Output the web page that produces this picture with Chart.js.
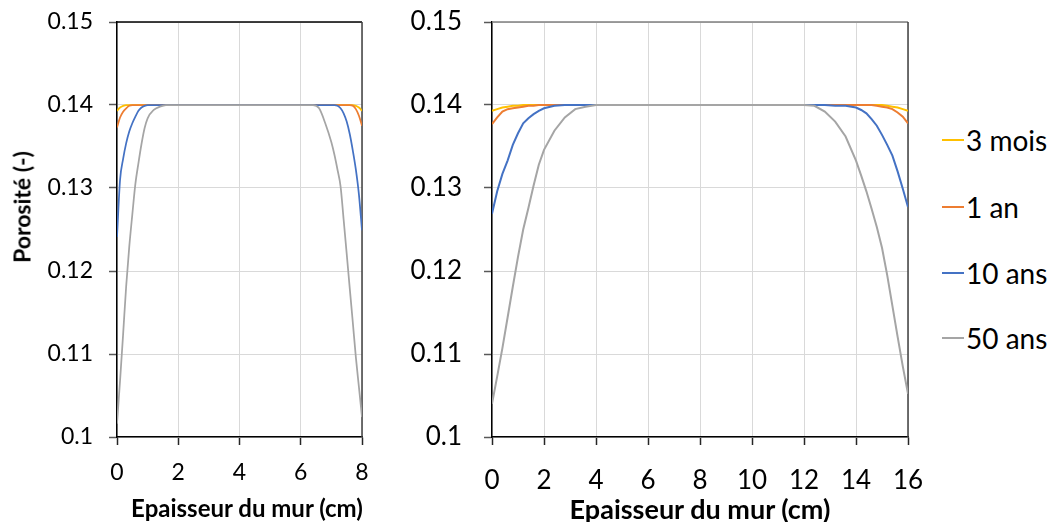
<!DOCTYPE html>
<html>
<head>
<meta charset="utf-8">
<script src="https://cdn.jsdelivr.net/npm/chart.js@4.4.1/dist/chart.umd.min.js"></script>
<style>
  html, body { margin: 0; padding: 0; background: #fff; }
  #wrap { position: relative; width: 1050px; height: 522px; overflow: hidden; font-family: Lato, "Open Sans", sans-serif; color: #000; }
  canvas { position: absolute; top: 0; }
  .axis-title { position: absolute; font-weight: bold; white-space: nowrap; line-height: 1; transform: translate(-50%, -50%); }
  #ytitle { left: 22px; top: 207px; font-size: 23px; transform: translate(-50%, -50%) rotate(-90deg); }
  #xtitle8 { left: 247px; top: 508px; font-size: 24px; }
  #xtitle16 { left: 700px; top: 508px; font-size: 27px; }
  .leg { position: absolute; left: 942px; display: flex; align-items: center; font-size: 28px; line-height: 1; white-space: nowrap; transform: translateY(-50%); }
  .leg i { display: block; width: 22px; height: 2px; margin-right: 2px; }
</style>
</head>
<body>
<div id="wrap">
  <canvas id="c8" width="380" height="522" style="left:0px"></canvas>
  <canvas id="c16" width="560" height="522" style="left:380px"></canvas>
  <div id="ytitle" class="axis-title">Porosité (-)</div>
  <div id="xtitle8" class="axis-title">Epaisseur du mur (cm)</div>
  <div id="xtitle16" class="axis-title">Epaisseur du mur (cm)</div>
  <div id="legend"></div>
</div>
<script>
// Series labels and colours
const seriesNames  = ['3 mois', '1 an', '10 ans', '50 ans'];
const seriesColors = ['#FFC000', '#ED7D31', '#4472C4', '#A5A5A5'];

// Axis ticks
const yTickValues = [0.1, 0.11, 0.12, 0.13, 0.14, 0.15];
const xTicks8  = [0, 2, 4, 6, 8];
const xTicks16 = [0, 2, 4, 6, 8, 10, 12, 14, 16];

// Wall 8 cm: positions across the thickness (cm)
const depth8 = [0, 0.1, 0.2, 0.3, 0.4, 0.5, 0.6, 0.7, 0.8, 0.9, 1.0, 1.2, 1.4, 1.6,
                2, 3, 4, 5, 6, 6.2, 6.4, 6.6, 6.8,
                7.0, 7.1, 7.2, 7.3, 7.4, 7.5, 7.6, 7.7, 7.8, 7.9, 8.0];
const mois3_8 = [0.1393, 0.1397, 0.1399, 0.14, 0.14, 0.14, 0.14, 0.14, 0.14, 0.14, 0.14, 0.14, 0.14, 0.14,
                 0.14, 0.14, 0.14, 0.14, 0.14, 0.14, 0.14, 0.14, 0.14,
                 0.14, 0.14, 0.14, 0.14, 0.14, 0.14, 0.14, 0.14, 0.1399, 0.1397, 0.1393];
const an1_8   = [0.1373, 0.1385, 0.1392, 0.1396, 0.1399, 0.14, 0.14, 0.14, 0.14, 0.14, 0.14, 0.14, 0.14, 0.14,
                 0.14, 0.14, 0.14, 0.14, 0.14, 0.14, 0.14, 0.14, 0.14,
                 0.14, 0.14, 0.14, 0.14, 0.14, 0.14, 0.14, 0.1399, 0.1395, 0.1387, 0.1375];
const ans10_8 = [0.1241, 0.1310, 0.1335, 0.1354, 0.1368, 0.1378, 0.1386, 0.1393, 0.1397, 0.1399, 0.14, 0.14, 0.14, 0.14,
                 0.14, 0.14, 0.14, 0.14, 0.14, 0.14, 0.14, 0.14, 0.14,
                 0.14, 0.14, 0.1399, 0.1396, 0.1390, 0.1380, 0.1365, 0.1345, 0.1322, 0.1292, 0.1249];
const ans50_8 = [0.1016, 0.1068, 0.1124, 0.1182, 0.1229, 0.1268, 0.1305, 0.1330, 0.1353, 0.1372, 0.1384, 0.1394, 0.1398, 0.14,
                 0.14, 0.14, 0.14, 0.14, 0.14, 0.14, 0.14, 0.1396, 0.1378,
                 0.1355, 0.1340, 0.1322, 0.1302, 0.1262, 0.1221, 0.1179, 0.1138, 0.1096, 0.1060, 0.1024];

// Wall 16 cm: positions across the thickness (cm)
const depth16 = [0, 0.2, 0.4, 0.6, 0.8, 1.0, 1.2, 1.4, 1.6, 1.8, 2.0,
                 2.4, 2.8, 3.2, 3.6, 4.0, 6, 8, 10, 12,
                 12.4, 12.8, 13.2, 13.6,
                 14.0, 14.2, 14.4, 14.6, 14.8, 15.0, 15.2, 15.4, 15.6, 15.8, 16.0];
const mois3_16 = [0.1393, 0.1395, 0.1397, 0.1398, 0.1399, 0.1399, 0.14, 0.14, 0.14, 0.14, 0.14,
                  0.14, 0.14, 0.14, 0.14, 0.14, 0.14, 0.14, 0.14, 0.14,
                  0.14, 0.14, 0.14, 0.14,
                  0.14, 0.14, 0.14, 0.14, 0.14, 0.14, 0.1399, 0.1398, 0.1397, 0.1395, 0.1393];
const an1_16   = [0.1377, 0.1385, 0.1392, 0.1395, 0.1396, 0.1397, 0.1398, 0.1399, 0.1399, 0.14, 0.14,
                  0.14, 0.14, 0.14, 0.14, 0.14, 0.14, 0.14, 0.14, 0.14,
                  0.14, 0.14, 0.14, 0.14,
                  0.14, 0.14, 0.14, 0.14, 0.1399, 0.1398, 0.1397, 0.1395, 0.1391, 0.1386, 0.1378];
const ans10_16 = [0.1269, 0.1296, 0.1317, 0.1333, 0.1352, 0.1366, 0.1378, 0.1384, 0.1389, 0.1393, 0.1396,
                  0.1399, 0.14, 0.14, 0.14, 0.14, 0.14, 0.14, 0.14, 0.14,
                  0.14, 0.14, 0.1399, 0.1399,
                  0.1397, 0.1394, 0.1390, 0.1383, 0.1375, 0.1364, 0.1352, 0.1339, 0.1320, 0.1299, 0.1277];
const ans50_16 = [0.1040, 0.1073, 0.1107, 0.1144, 0.1181, 0.1217, 0.1250, 0.1276, 0.1303, 0.1328, 0.1346,
                  0.1369, 0.1385, 0.1395, 0.1398, 0.14, 0.14, 0.14, 0.14, 0.14,
                  0.1399, 0.1392, 0.1380, 0.1362,
                  0.1333, 0.1315, 0.1296, 0.1275, 0.1253, 0.1228, 0.1195, 0.1158, 0.1121, 0.1085, 0.1052];

Chart.defaults.font.family = 'Lato, "Open Sans", sans-serif';
Chart.defaults.color = '#000';

// Closes the plot box on the top and right sides
const plotFrame = {
  id: 'plotFrame',
  beforeDatasetsDraw(chart, args, opts) {
    const { ctx, chartArea: a } = chart;
    ctx.save();
    ctx.lineWidth = opts.width;
    ctx.strokeStyle = opts.topColor;
    ctx.beginPath(); ctx.moveTo(a.left, a.top); ctx.lineTo(a.right, a.top); ctx.stroke();
    ctx.strokeStyle = opts.rightColor;
    ctx.beginPath(); ctx.moveTo(a.right, a.top); ctx.lineTo(a.right, a.bottom); ctx.stroke();
    ctx.restore();
  }
};

function makeSeries(xs, cols, width, smooth) {
  return cols.map((vals, k) => ({
    label: seriesNames[k],
    data: xs.map((x, i) => ({ x: x, y: vals[i] })),
    borderColor: seriesColors[k],
    backgroundColor: seriesColors[k],
    borderWidth: width,
    pointRadius: 0,
    fill: false,
    cubicInterpolationMode: smooth ? 'monotone' : 'default',
    tension: 0,
    order: cols.length - 1 - k
  }));
}

// The plot box is placed by the layout padding alone, so the label overhang
// that the scales report is cleared after they are fitted.
function clearOverhang(s) {
  s.paddingTop = 0; s.paddingBottom = 0; s.paddingLeft = 0; s.paddingRight = 0;
}

function makeChart(id, cfg) {
  return new Chart(document.getElementById(id), {
    type: 'line',
    data: { datasets: makeSeries(cfg.xs, cfg.cols, cfg.lineWidth, cfg.smooth) },
    plugins: [plotFrame],
    options: {
      responsive: false,
      animation: false,
      devicePixelRatio: 1,
      layout: { padding: { left: 0, top: 22, right: cfg.padRight, bottom: 0 } },
      plugins: {
        legend: { display: false },
        tooltip: { enabled: false },
        plotFrame: { width: 1.5, topColor: cfg.topColor, rightColor: cfg.rightColor }
      },
      scales: {
        x: {
          type: 'linear',
          min: cfg.xTicks[0],
          max: cfg.xTicks[cfg.xTicks.length - 1],
          afterBuildTicks: s => { s.ticks = cfg.xTicks.map(v => ({ value: v })); },
          afterFit: s => { s.height = 85; clearOverhang(s); },
          grid: { color: '#d9d9d9', lineWidth: 1, tickLength: 8, tickColor: '#262626', tickWidth: 1.5 },
          border: { color: '#000', width: 1.5 },
          ticks: { font: { size: cfg.tickSize }, color: '#000', padding: cfg.xPad, maxRotation: 0, autoSkip: false,
                   callback: v => String(v) }
        },
        y: {
          min: yTickValues[0],
          max: yTickValues[yTickValues.length - 1],
          afterBuildTicks: s => { s.ticks = yTickValues.map(v => ({ value: v })); },
          afterFit: s => { s.width = cfg.yWidth; clearOverhang(s); },
          grid: { color: '#d9d9d9', lineWidth: 1, tickLength: 8, tickColor: '#595959', tickWidth: 1.5 },
          border: { color: '#000', width: 1.5 },
          ticks: { font: { size: cfg.tickSize }, color: '#000', padding: cfg.yPad, autoSkip: false,
                   callback: v => String(Number(v.toFixed(2))) }
        }
      }
    }
  });
}

makeChart('c8', {
  xs: depth8, cols: [mois3_8, an1_8, ans10_8, ans50_8], xTicks: xTicks8,
  lineWidth: 1.75, smooth: true, yWidth: 117, padRight: 18,
  tickSize: 23, xPad: 14, yPad: 16, topColor: '#000', rightColor: '#404040'
});

makeChart('c16', {
  xs: depth16, cols: [mois3_16, an1_16, ans10_16, ans50_16], xTicks: xTicks16,
  lineWidth: 2, smooth: false, yWidth: 112, padRight: 32,
  tickSize: 26, xPad: 20, yPad: 22, topColor: '#7f7f7f', rightColor: '#404040'
});

// Legend beside the 16 cm chart
const legendRows = [140, 207, 273, 338];
const legend = document.getElementById('legend');
seriesNames.forEach((name, k) => {
  const row = document.createElement('div');
  row.className = 'leg';
  row.style.top = legendRows[k] + 'px';
  const mark = document.createElement('i');
  mark.style.background = seriesColors[k];
  const txt = document.createElement('span');
  txt.textContent = name;
  row.appendChild(mark);
  row.appendChild(txt);
  legend.appendChild(row);
});
</script>
</body>
</html>
